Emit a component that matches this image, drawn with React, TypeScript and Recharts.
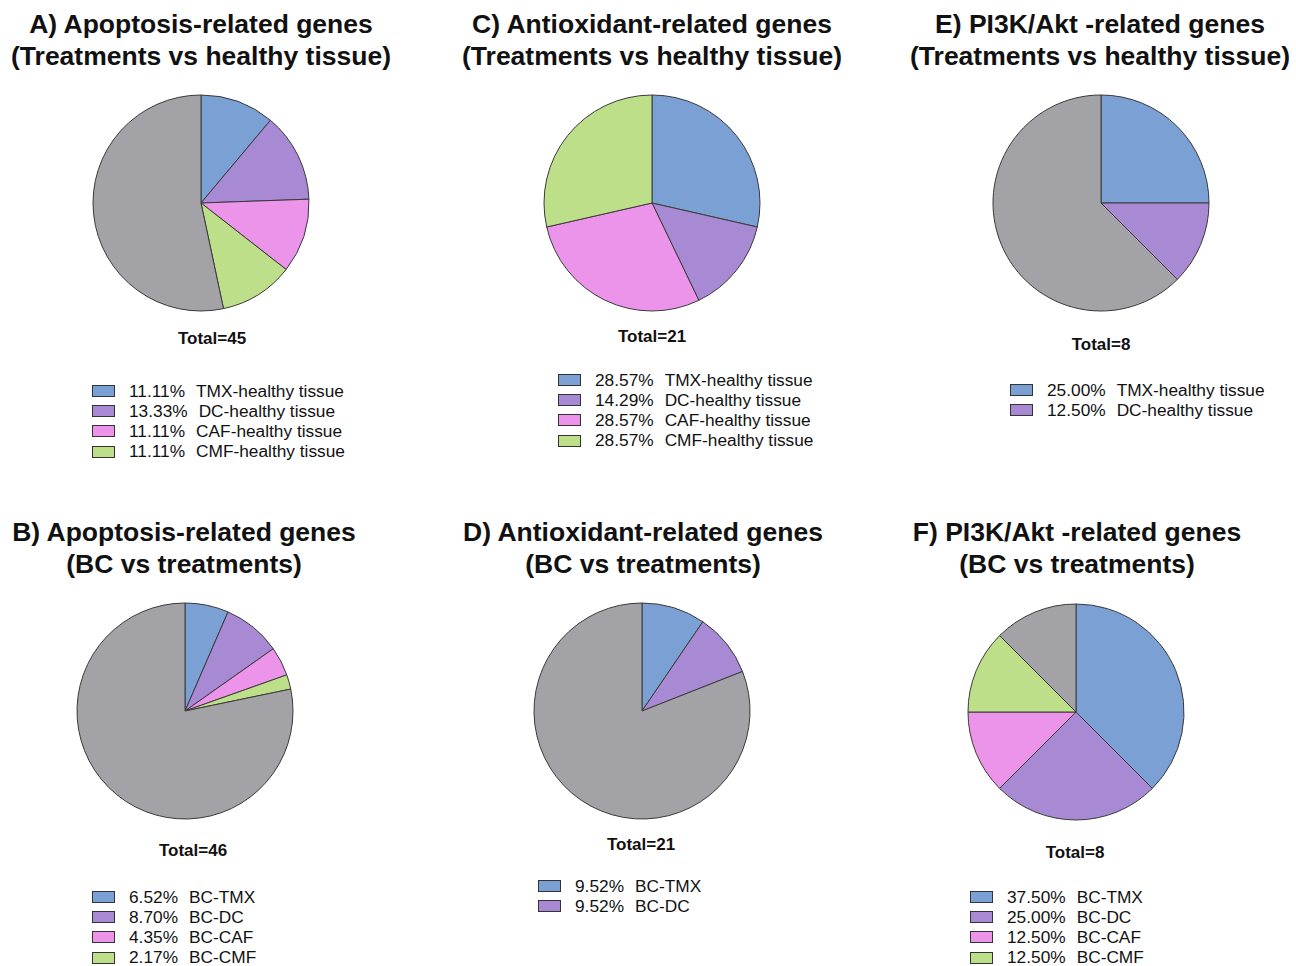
import React from "react";
import { PieChart, Pie, Cell } from "recharts";

// ---- Data ----
const colors = ["#7BA0D4", "#A78AD3", "#EB94EA", "#BEDF8A"];
const otherColor = "#A3A2A7";

const titleA = ["A) Apoptosis-related genes", "(Treatments vs healthy tissue)"];
const labelsA = ["TMX-healthy tissue", "DC-healthy tissue", "CAF-healthy tissue", "CMF-healthy tissue"];
const valuesA = [11.11, 13.33, 11.11, 11.11];
const otherA = 53.34;
const totalA = 45;

const titleB = ["B) Apoptosis-related genes", "(BC vs treatments)"];
const labelsB = ["BC-TMX", "BC-DC", "BC-CAF", "BC-CMF"];
const valuesB = [6.52, 8.7, 4.35, 2.17];
const otherB = 78.26;
const totalB = 46;

const titleC = ["C) Antioxidant-related genes", "(Treatments vs healthy tissue)"];
const labelsC = ["TMX-healthy tissue", "DC-healthy tissue", "CAF-healthy tissue", "CMF-healthy tissue"];
const valuesC = [28.57, 14.29, 28.57, 28.57];
const otherC = 0;
const totalC = 21;

const titleD = ["D) Antioxidant-related genes", "(BC vs treatments)"];
const labelsD = ["BC-TMX", "BC-DC"];
const valuesD = [9.52, 9.52];
const otherD = 80.96;
const totalD = 21;

const titleE = ["E) PI3K/Akt -related genes", "(Treatments vs healthy tissue)"];
const labelsE = ["TMX-healthy tissue", "DC-healthy tissue"];
const valuesE = [25.0, 12.5];
const otherE = 62.5;
const totalE = 8;

const titleF = ["F) PI3K/Akt -related genes", "(BC vs treatments)"];
const labelsF = ["BC-TMX", "BC-DC", "BC-CAF", "BC-CMF"];
const valuesF = [37.5, 25.0, 12.5, 12.5];
const otherF = 12.5;
const totalF = 8;

type Panel = {
  title: string[];
  labels: string[];
  values: number[];
  other: number;
  total: number;
  cx: number;
  cy: number;
  titleX: number;
  titleTop: number;
  totalX: number;
  totalY: number;
  legX: number;
  legY: number;
};

const panels: Panel[] = [
  { title: titleA, labels: labelsA, values: valuesA, other: otherA, total: totalA, cx: 201, cy: 203, titleX: 201, titleTop: 8, totalX: 212, totalY: 339, legX: 92, legY: 391 },
  { title: titleC, labels: labelsC, values: valuesC, other: otherC, total: totalC, cx: 652, cy: 203, titleX: 652, titleTop: 8, totalX: 652, totalY: 337, legX: 558, legY: 380 },
  { title: titleE, labels: labelsE, values: valuesE, other: otherE, total: totalE, cx: 1101, cy: 203, titleX: 1100, titleTop: 8, totalX: 1101, totalY: 345, legX: 1010, legY: 390 },
  { title: titleB, labels: labelsB, values: valuesB, other: otherB, total: totalB, cx: 185, cy: 711, titleX: 184, titleTop: 516, totalX: 193, totalY: 851, legX: 92, legY: 897 },
  { title: titleD, labels: labelsD, values: valuesD, other: otherD, total: totalD, cx: 642, cy: 711, titleX: 643, titleTop: 516, totalX: 641, totalY: 845, legX: 538, legY: 886 },
  { title: titleF, labels: labelsF, values: valuesF, other: otherF, total: totalF, cx: 1076, cy: 712, titleX: 1077, titleTop: 516, totalX: 1075, totalY: 853, legX: 970, legY: 897 },
];

const font = "'Liberation Sans', Arial, sans-serif";
const rowGap = 20.2;

function pieData(p: Panel) {
  const d = p.labels.map((l, i) => ({ name: l, value: p.values[i], color: colors[i] }));
  if (p.other > 0) d.push({ name: "other", value: p.other, color: otherColor });
  return d;
}

export default function App() {
  return (
    <div style={{ position: "absolute", left: 0, top: 0, width: 1296, height: 966, background: "#fff", fontFamily: font, overflow: "hidden" }}>
      <PieChart width={1296} height={966} margin={{ top: 0, right: 0, bottom: 0, left: 0 }} style={{ position: "absolute", left: 0, top: 0 }}>
        {panels.map((p, pi) => (
          <Pie
            key={pi}
            data={pieData(p)}
            dataKey="value"
            nameKey="name"
            cx={p.cx}
            cy={p.cy}
            outerRadius={108}
            innerRadius={0}
            startAngle={90}
            endAngle={-270}
            stroke="#3a3a3a"
            strokeWidth={1}
            isAnimationActive={false}
            label={false}
            labelLine={false}
            legendType="none"
          >
            {pieData(p).map((d, i) => (
              <Cell key={i} fill={d.color} />
            ))}
          </Pie>
        ))}
      </PieChart>
      {panels.map((p, pi) => (
        <React.Fragment key={"t" + pi}>
          <div
            style={{
              position: "absolute",
              left: p.titleX - 300,
              width: 600,
              top: p.titleTop,
              textAlign: "center",
              fontWeight: "bold",
              fontSize: 26.5,
              lineHeight: "32px",
              color: "#111",
              whiteSpace: "nowrap",
            }}
          >
            {p.title.map((t, i) => (
              <div key={i}>{t}</div>
            ))}
          </div>
          <div
            style={{
              position: "absolute",
              left: p.totalX - 100,
              width: 200,
              top: p.totalY - 10,
              textAlign: "center",
              fontWeight: "bold",
              fontSize: 17,
              lineHeight: "20px",
              color: "#111",
            }}
          >
            Total={p.total}
          </div>
          {p.labels.map((l, i) => (
            <div
              key={"l" + i}
              style={{
                position: "absolute",
                left: p.legX,
                top: p.legY + i * rowGap - 7.5,
                height: 15,
                lineHeight: "15px",
                display: "flex",
                alignItems: "center",
                fontSize: 17.3,
                color: "#111",
                whiteSpace: "nowrap",
              }}
            >
              <span
                style={{
                  display: "inline-block",
                  width: 21,
                  height: 10,
                  background: colors[i],
                  border: "1px solid #333",
                  marginRight: 14,
                }}
              />
              <span>{p.values[i].toFixed(2)}%</span>
              <span style={{ marginLeft: 11 }}>{l}</span>
            </div>
          ))}
        </React.Fragment>
      ))}
    </div>
  );
}
